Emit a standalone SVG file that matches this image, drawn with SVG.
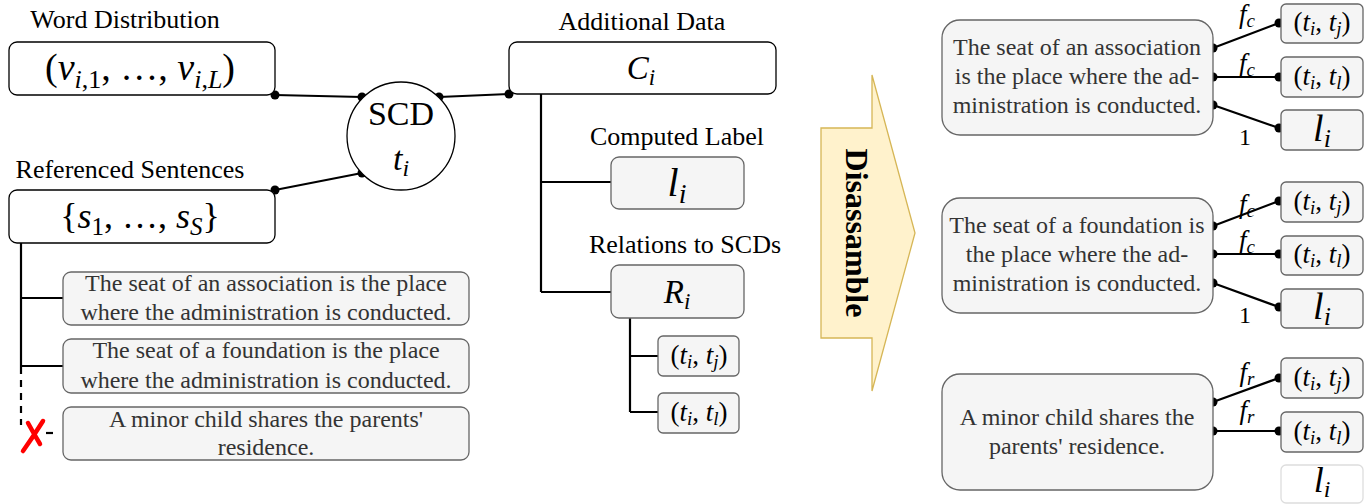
<svg xmlns="http://www.w3.org/2000/svg" width="1369" height="504" viewBox="0 0 1369 504">
<defs>
<style>
.lbl{font-size:26px;fill:#000;text-anchor:middle}
.sent{font-size:24px;fill:#333;text-anchor:middle}
.m{fill:#000;text-anchor:middle}
.i{font-style:italic}
.wbox{fill:#fff;stroke:#000;stroke-width:1.3}
.gbox{fill:#f5f5f5;stroke:#666;stroke-width:1.3}
.fbox{fill:#fff;stroke:#ddd;stroke-width:1.3}
.edge{stroke:#000;stroke-width:2.2;fill:none}
.dot{fill:#000}
</style>
</defs>
<rect width="1369" height="504" fill="#fff"/>
<g font-family="'Liberation Serif', 'Times New Roman', Tinos, 'DejaVu Serif', serif">

<g id="connectors">
<path class="edge" d="M275 95 L362 97 M439 97 L509 94 M275 190 L362 173"/>
<path class="edge" d="M541 94 V292 M541 182 H611 M541 292 H611"/>
<path class="edge" d="M630 318 V412 M630 356 H658 M630 412 H658"/>
<path class="edge" d="M21 243 V367 M21 298 H63 M21 366 H63"/>
<path class="edge" d="M21 367 V425" stroke-dasharray="7 6"/>
<path class="edge" d="M46 433 H53"/>
<path d="M23 451 Q33 437 43 421 M28 423 Q34 434 40 444" stroke="#ff0000" stroke-width="4.5" fill="none" stroke-linecap="round"/>
<g class="dot">
<circle cx="275" cy="95" r="4.5"/><circle cx="362" cy="97" r="4.5"/><circle cx="439" cy="97" r="4.5"/><circle cx="509" cy="94" r="4.5"/><circle cx="275" cy="190" r="4.5"/><circle cx="362" cy="173" r="4.5"/>
</g>
<path class="edge" d="M1213 48 L1279 23 M1213 77 H1279 M1213 105 L1279 128"/>
<path class="edge" d="M1213 226 L1279 201 M1213 254 H1279 M1213 283 L1279 307"/>
<path class="edge" d="M1213 402 L1279 378 M1213 431 H1279"/>
<g class="dot">
<circle cx="1213" cy="48" r="4.5"/><circle cx="1213" cy="77" r="4.5"/><circle cx="1213" cy="105" r="4.5"/>
<circle cx="1279" cy="23" r="4.5"/><circle cx="1279" cy="77" r="4.5"/><circle cx="1279" cy="128" r="4.5"/>
<circle cx="1213" cy="226" r="4.5"/><circle cx="1213" cy="254" r="4.5"/><circle cx="1213" cy="283" r="4.5"/>
<circle cx="1279" cy="201" r="4.5"/><circle cx="1279" cy="254" r="4.5"/><circle cx="1279" cy="307" r="4.5"/>
<circle cx="1213" cy="402" r="4.5"/><circle cx="1213" cy="431" r="4.5"/>
<circle cx="1279" cy="378" r="4.5"/><circle cx="1279" cy="431" r="4.5"/>
</g>
<text class="m" x="1247" y="23" font-size="27"><tspan class="i">f</tspan><tspan font-size="19" dy="4" class="i">c</tspan></text>
<text class="m" x="1247" y="72" font-size="27"><tspan class="i">f</tspan><tspan font-size="19" dy="4" class="i">c</tspan></text>
<text class="m" x="1245" y="145" font-size="24">1</text>
<text class="m" x="1247" y="213" font-size="27"><tspan class="i">f</tspan><tspan font-size="19" dy="4" class="i">c</tspan></text>
<text class="m" x="1247" y="249" font-size="27"><tspan class="i">f</tspan><tspan font-size="19" dy="4" class="i">c</tspan></text>
<text class="m" x="1245" y="323" font-size="24">1</text>
<text class="m" x="1247" y="381" font-size="27"><tspan class="i">f</tspan><tspan font-size="19" dy="4" class="i">r</tspan></text>
<text class="m" x="1247" y="419" font-size="27"><tspan class="i">f</tspan><tspan font-size="19" dy="4" class="i">r</tspan></text>
</g>

<g id="word-distribution">
<text class="lbl" x="125" y="28">Word Distribution</text>
<rect class="wbox" x="9" y="42" width="266" height="53" rx="8"/>
<text class="m" x="140" y="80" font-size="38">(<tspan class="i">v</tspan><tspan font-size="26" dy="8"><tspan class="i">i</tspan>,1</tspan><tspan dy="-8">, …, </tspan><tspan class="i">v</tspan><tspan font-size="26" dy="8"><tspan class="i">i</tspan>,<tspan class="i">L</tspan></tspan><tspan dy="-8">)</tspan></text>
</g>

<g id="referenced-sentences">
<text class="lbl" x="130" y="178">Referenced Sentences</text>
<rect class="wbox" x="9" y="190" width="266" height="53" rx="8"/>
<text class="m" x="140" y="228" font-size="36">{<tspan class="i">s</tspan><tspan font-size="25" dy="7">1</tspan><tspan dy="-7">, …, </tspan><tspan class="i">s</tspan><tspan font-size="25" dy="7" class="i">S</tspan><tspan dy="-7">}</tspan></text>
</g>

<g id="scd">
<circle cx="401" cy="136" r="54" fill="#fff" stroke="#000" stroke-width="1.3"/>
<text class="m" x="401" y="125" font-size="34">SCD</text>
<text class="m" x="401" y="170" font-size="34"><tspan class="i">t</tspan><tspan font-size="24" dy="6" class="i">i</tspan></text>
</g>

<g id="additional-data">
<text class="lbl" x="642" y="30">Additional Data</text>
<rect class="wbox" x="509" y="42" width="267" height="52" rx="8"/>
<text class="m" x="641" y="79" font-size="33"><tspan class="i">C</tspan><tspan font-size="23" dy="6" class="i">i</tspan></text>
</g>

<g id="computed-label">
<text class="lbl" x="677" y="145">Computed Label</text>
<rect class="gbox" x="611" y="157" width="133" height="52" rx="8"/>
<text class="m" x="677" y="196" font-size="40"><tspan class="i">l</tspan><tspan font-size="28" dy="7" class="i">i</tspan></text>
</g>

<g id="relations">
<text class="lbl" x="685" y="253">Relations to SCDs</text>
<rect class="gbox" x="611" y="265" width="133" height="53" rx="8"/>
<text class="m" x="677" y="303" font-size="33"><tspan class="i">R</tspan><tspan font-size="23" dy="6" class="i">i</tspan></text>
</g>

<g id="rel-tj">
<rect class="gbox" x="658" y="336" width="81" height="40" rx="5"/>
<text class="m" x="699" y="364" font-size="27">(<tspan class="i">t</tspan><tspan font-size="19" dy="4" class="i">i</tspan><tspan dy="-4">, </tspan><tspan class="i">t</tspan><tspan font-size="19" dy="4" class="i">j</tspan><tspan dy="-4">)</tspan></text>
</g>
<g id="rel-tl">
<rect class="gbox" x="658" y="393" width="81" height="40" rx="5"/>
<text class="m" x="699" y="421" font-size="27">(<tspan class="i">t</tspan><tspan font-size="19" dy="4" class="i">i</tspan><tspan dy="-4">, </tspan><tspan class="i">t</tspan><tspan font-size="19" dy="4" class="i">l</tspan><tspan dy="-4">)</tspan></text>
</g>

<g id="sentence-1">
<rect class="gbox" x="63" y="272" width="406" height="53" rx="8"/>
<text class="sent" x="266" y="291">The seat of an association is the place</text>
<text class="sent" x="266" y="320">where the administration is conducted.</text>
</g>
<g id="sentence-2">
<rect class="gbox" x="63" y="339" width="406" height="54" rx="8"/>
<text class="sent" x="266" y="358">The seat of a foundation is the place</text>
<text class="sent" x="266" y="388">where the administration is conducted.</text>
</g>
<g id="sentence-3">
<rect class="gbox" x="63" y="407" width="406" height="53" rx="8"/>
<text class="sent" x="266" y="427">A minor child shares the parents'</text>
<text class="sent" x="266" y="455">residence.</text>
</g>

<g id="disassemble">
<polygon points="821,128 872,128 872,75 915,233 872,391 872,338 821,338" fill="#fff2cc" stroke="#d6b656" stroke-width="1.3"/>
<text transform="translate(846,233) rotate(90)" x="0" y="0" font-weight="bold" font-size="32" text-anchor="middle" fill="#000">Disassamble</text>
</g>

<g id="out-1">
<rect class="gbox" x="942" y="20" width="271" height="115" rx="18"/>
<text class="sent" x="1077" y="55">The seat of an association</text>
<text class="sent" x="1077" y="84">is the place where the ad-</text>
<text class="sent" x="1077" y="113">ministration is conducted.</text>
<rect class="gbox" x="1281" y="4" width="82" height="39" rx="5"/>
<text class="m" x="1322" y="31" font-size="27">(<tspan class="i">t</tspan><tspan font-size="19" dy="4" class="i">i</tspan><tspan dy="-4">, </tspan><tspan class="i">t</tspan><tspan font-size="19" dy="4" class="i">j</tspan><tspan dy="-4">)</tspan></text>
<rect class="gbox" x="1281" y="57" width="82" height="40" rx="5"/>
<text class="m" x="1322" y="85" font-size="27">(<tspan class="i">t</tspan><tspan font-size="19" dy="4" class="i">i</tspan><tspan dy="-4">, </tspan><tspan class="i">t</tspan><tspan font-size="19" dy="4" class="i">l</tspan><tspan dy="-4">)</tspan></text>
<rect class="gbox" x="1281" y="110" width="82" height="40" rx="5"/>
<text class="m" x="1322" y="141" font-size="38"><tspan class="i">l</tspan><tspan font-size="26" dy="6" class="i">i</tspan></text>
</g>

<g id="out-2">
<rect class="gbox" x="942" y="198" width="271" height="115" rx="18"/>
<text class="sent" x="1077" y="233">The seat of a foundation is</text>
<text class="sent" x="1077" y="262">the place where the ad-</text>
<text class="sent" x="1077" y="291">ministration is conducted.</text>
<rect class="gbox" x="1281" y="182" width="82" height="40" rx="5"/>
<text class="m" x="1322" y="210" font-size="27">(<tspan class="i">t</tspan><tspan font-size="19" dy="4" class="i">i</tspan><tspan dy="-4">, </tspan><tspan class="i">t</tspan><tspan font-size="19" dy="4" class="i">j</tspan><tspan dy="-4">)</tspan></text>
<rect class="gbox" x="1281" y="236" width="82" height="39" rx="5"/>
<text class="m" x="1322" y="263" font-size="27">(<tspan class="i">t</tspan><tspan font-size="19" dy="4" class="i">i</tspan><tspan dy="-4">, </tspan><tspan class="i">t</tspan><tspan font-size="19" dy="4" class="i">l</tspan><tspan dy="-4">)</tspan></text>
<rect class="gbox" x="1281" y="289" width="82" height="39" rx="5"/>
<text class="m" x="1322" y="319" font-size="38"><tspan class="i">l</tspan><tspan font-size="26" dy="6" class="i">i</tspan></text>
</g>

<g id="out-3">
<rect class="gbox" x="942" y="374" width="271" height="116" rx="18"/>
<text class="sent" x="1077" y="425">A minor child shares the</text>
<text class="sent" x="1077" y="454">parents' residence.</text>
<rect class="gbox" x="1281" y="358" width="82" height="40" rx="5"/>
<text class="m" x="1322" y="386" font-size="27">(<tspan class="i">t</tspan><tspan font-size="19" dy="4" class="i">i</tspan><tspan dy="-4">, </tspan><tspan class="i">t</tspan><tspan font-size="19" dy="4" class="i">j</tspan><tspan dy="-4">)</tspan></text>
<rect class="gbox" x="1281" y="412" width="82" height="40" rx="5"/>
<text class="m" x="1322" y="440" font-size="27">(<tspan class="i">t</tspan><tspan font-size="19" dy="4" class="i">i</tspan><tspan dy="-4">, </tspan><tspan class="i">t</tspan><tspan font-size="19" dy="4" class="i">l</tspan><tspan dy="-4">)</tspan></text>
<rect class="fbox" x="1281" y="465" width="82" height="38" rx="5"/>
<text class="m" x="1322" y="492" font-size="36" fill="#ddd"><tspan class="i">l</tspan><tspan font-size="24" dy="5" class="i">i</tspan></text>
</g>
</g>
</svg>
